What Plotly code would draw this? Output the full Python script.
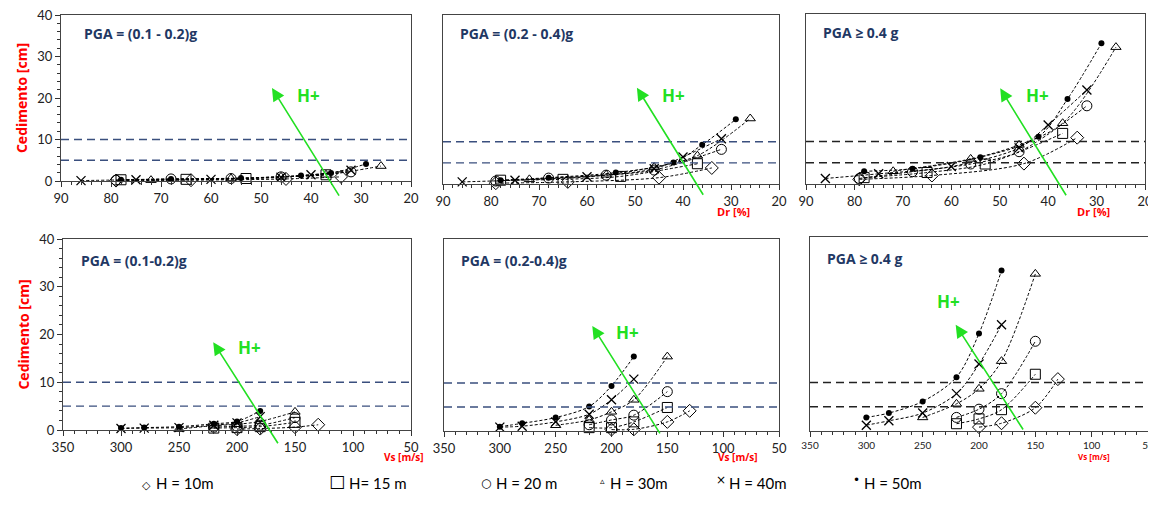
import plotly.graph_objects as go

W, H = 1156, 505
OFF = 8  # page body margin in the browser

# ---------------- data ----------------
SERIES = ["H = 10m", "H= 15 m", "H = 20 m", "H = 30m", "H = 40m", "H = 50m"]

# relative density Dr [%] of the points of each series (top row)
DR_H10 = [79, 64, 45, 34]
DR_H15 = [78, 65, 53, 37]
DR_H20 = [79, 68, 56, 46, 32]
DR_H30 = [72, 56, 46, 37, 26]
DR_H40 = [86, 75, 60, 46, 40, 32]
DR_H50 = [78, 68, 54, 42, 36, 29]

# shear wave velocity Vs [m/s] of the points of each series (bottom row)
VS_H10 = [200, 180, 150, 130]
VS_H15 = [220, 200, 180, 150]
VS_H20 = [220, 200, 180, 150]
VS_H30 = [250, 220, 200, 180, 150]
VS_H40 = [300, 280, 250, 220, 200, 180]
VS_H50 = [300, 280, 250, 220, 200, 180]

# settlements [cm], series order H10, H15, H20, H30, H40, H50
CED_DR_PGA_01_02 = [[0.1, 0.2, 0.5, 1.0], [0.3, 0.4, 0.6, 1.5], [0.2, 0.5, 0.6, 1.0, 2.2],
                    [0.2, 0.6, 1.0, 1.5, 3.6], [0.1, 0.3, 0.4, 0.9, 1.5, 2.6], [0.3, 0.5, 0.7, 1.3, 1.9, 4.1]]
CED_DR_PGA_02_04 = [[0.2, 0.5, 1.5, 3.8], [0.9, 1.1, 1.8, 4.8], [0.7, 1.4, 2.1, 3.3, 8.2],
                    [1.1, 2.2, 4.0, 6.7, 15.5], [0.5, 0.9, 1.7, 3.6, 6.4, 10.7], [0.9, 1.5, 2.7, 5.1, 9.3, 15.3]]
CED_DR_PGA_04 = [[1.1, 2.0, 4.8, 10.9], [1.5, 2.7, 4.7, 11.9], [1.3, 2.9, 4.7, 7.6, 18.4],
                 [3.0, 5.9, 9.2, 14.3, 32.2], [1.3, 2.4, 4.1, 8.5, 13.9, 22.1], [3.0, 3.6, 6.3, 11.1, 20.0, 33.1]]
CED_VS_PGA_01_02 = [[0.2, 0.3, 0.6, 1.1], [0.4, 0.5, 0.7, 1.6], [0.6, 0.8, 1.0, 2.6],
                    [0.2, 0.9, 1.2, 1.8, 3.8], [0.3, 0.4, 0.5, 1.0, 1.5, 2.8], [0.4, 0.5, 0.7, 1.3, 1.8, 4.0]]
CED_VS_PGA_02_04 = [[0.3, 0.35, 1.9, 4.2], [0.7, 0.7, 1.9, 4.9], [1.3, 2.3, 3.3, 8.2],
                    [1.2, 2.3, 4.0, 6.5, 15.5], [0.8, 1.0, 1.9, 3.5, 6.5, 10.8], [0.9, 1.6, 2.8, 5.1, 9.4, 15.5]]
CED_VS_PGA_04 = [[0.8, 1.6, 4.8, 10.7], [1.5, 2.5, 4.4, 11.7], [2.8, 4.5, 7.7, 18.5],
                 [2.8, 5.6, 8.7, 14.4, 32.4], [1.2, 2.1, 3.7, 7.7, 13.8, 21.9], [2.8, 3.7, 6.1, 11.1, 20.1, 33.1]]

PANEL_TITLES = ["PGA = (0.1 - 0.2)g", "PGA = (0.2 - 0.4)g", "PGA \u2265 0.4 g",
                "PGA = (0.1-0.2)g", "PGA = (0.2-0.4)g", "PGA \u2265 0.4 g"]
LIMITS = [5, 10]
DR_TICKS = [90, 80, 70, 60, 50, 40, 30, 20]
VS_TICKS = [350, 300, 250, 200, 150, 100, 50]
Y_TICKS = [0, 10, 20, 30, 40]

DR_X = [DR_H10, DR_H15, DR_H20, DR_H30, DR_H40, DR_H50]
VS_X = [VS_H10, VS_H15, VS_H20, VS_H30, VS_H40, VS_H50]

# ---------------- styling ----------------
FONT = "Lato"
BOLD_FONT = "Open Sans"
NAVY = "#1f3864"
RED = "#ff0000"
GREEN = "#22e022"


def px(x):
    return (x - OFF) / W


def py(y):
    return 1 - (y - OFF) / H


MARKERS = [
    dict(symbol="diamond-open", size=10, line=dict(width=1, color="black")),
    dict(symbol="square-open", size=10, line=dict(width=1, color="black")),
    dict(symbol="circle-open", size=10, line=dict(width=1, color="black")),
    dict(symbol="triangle-up-open", size=9, line=dict(width=1, color="black")),
    dict(symbol="x-thin-open", size=9, line=dict(width=1.3, color="black")),
    dict(symbol="circle", size=6, color="black", line=dict(width=0)),
]

# panel boxes in page pixels: (left, right, top, bottom)
BOXES = [(61, 411, 15, 181), (443, 779, 15, 184), (806, 1145, 14, 184),
         (63, 411, 239, 430), (444, 779, 239, 431), (810, 1148, 237, 431)]

panels = [
    (DR_X, CED_DR_PGA_01_02), (DR_X, CED_DR_PGA_02_04), (DR_X, CED_DR_PGA_04),
    (VS_X, CED_VS_PGA_01_02), (VS_X, CED_VS_PGA_02_04), (VS_X, CED_VS_PGA_04),
]

# arrow head / tail and H+ label positions in data units of each panel
ARROWS = [
    ((47.8, 22.4), (34.2, -3.9), (40.6, 20.7)),
    ((49.6, 22.8), (35.6, -2.9), (41.9, 21.0)),
    ((49.9, 22.5), (36.1, -3.0), (42.3, 20.9)),
    ((220.5, 18.4), (163.9, -3.1), (189.5, 17.2)),
    ((217.2, 21.9), (155.8, -0.8), (185.3, 20.6)),
    ((220.7, 21.9), (160.0, 0.0), (227.3, 26.6)),
]

fig = go.Figure()
layout = dict(
    width=W, height=H, margin=dict(l=0, r=0, t=0, b=0, autoexpand=False),
    paper_bgcolor="white", plot_bgcolor="white", showlegend=False,
    font=dict(family=FONT, size=13, color="#222"),
)
shapes, annotations = [], []

for i, ((xs_list, ys_list), box) in enumerate(zip(panels, BOXES)):
    n = i + 1
    xid = "x" if n == 1 else f"x{n}"
    yid = "y" if n == 1 else f"y{n}"
    xkey = "xaxis" if n == 1 else f"xaxis{n}"
    ykey = "yaxis" if n == 1 else f"yaxis{n}"
    top_row = i < 3
    left_col = i % 3 == 0
    l, r, t, b = box

    for k in range(6):
        fig.add_trace(go.Scatter(
            x=xs_list[k], y=ys_list[k], mode="lines+markers",
            line=dict(color="black", width=1, dash="3px,2px", shape="spline", smoothing=0.9),
            marker=MARKERS[k], xaxis=xid, yaxis=yid, name=SERIES[k],
            cliponaxis=False,
        ))

    tick_size = 13 if i != 5 else 10
    layout[xkey] = dict(
        domain=[px(l), px(r)], anchor=yid, automargin=False, ticklabeloverflow="allow",
        range=[90, 20] if top_row else [350, 50],
        tickvals=DR_TICKS if top_row else VS_TICKS,
        ticks="outside", ticklen=5, tickcolor="#333",
        minor=dict(dtick=2 if top_row else 10, ticks="outside", ticklen=3, tickcolor="#333"),
        showline=True, linecolor="#444", linewidth=1, mirror=True,
        showgrid=False, zeroline=False,
        tickfont=dict(size=tick_size, color="#222"),
    )
    layout[ykey] = dict(
        domain=[py(b), py(t)], anchor=xid, automargin=False, ticklabeloverflow="allow",
        range=[0, 40], tickvals=Y_TICKS,
        showticklabels=left_col,
        ticks="outside" if left_col else "", ticklen=5, tickcolor="#333",
        minor=dict(dtick=2, ticks="outside", ticklen=3, tickcolor="#333") if left_col else dict(ticks=""),
        showline=True, linecolor="#444", linewidth=1, mirror=True,
        showgrid=False, zeroline=False,
        tickfont=dict(size=13, color="#222"),
    )
    if left_col:
        layout[ykey]["title"] = dict(
            text="<b>Cedimento [cm]</b>", font=dict(size=14, color=RED, family=BOLD_FONT), standoff=6)

    # limit lines
    lc = "#3a4f7e" if i % 3 != 2 else "#222222"
    for v in LIMITS:
        shapes.append(dict(type="line", xref=f"{xid} domain", yref=yid, x0=0, x1=1, y0=v, y1=v,
                           line=dict(color=lc, width=1.4, dash="8px,5px")))

    # panel title
    annotations.append(dict(
        text=f"<b>{PANEL_TITLES[i]}</b>", xref=f"{xid} domain", yref=f"{yid} domain",
        x=0.045 if i not in (0,) else 0.06, y=0.89, xanchor="left", yanchor="middle",
        showarrow=False, font=dict(size=14, color=NAVY, family=BOLD_FONT)))

    # green arrow
    head, tail, lab = ARROWS[i]
    annotations.append(dict(
        x=head[0], y=head[1], ax=tail[0], ay=tail[1], xref=xid, yref=yid,
        axref=xid, ayref=yid, text="", showarrow=True, arrowhead=2, arrowsize=1.6,
        arrowwidth=1.6, arrowcolor=GREEN))
    annotations.append(dict(
        x=lab[0], y=lab[1], xref=xid, yref=yid, text="<b>H+</b>", showarrow=False,
        font=dict(size=17, color=GREEN, family=BOLD_FONT)))

# axis name labels (placed just under the tick-label row)
for (x, y, txt, sz) in [(733, 211, "Dr [%]", 11), (1112, 211, "Dr [%]", 11),
                        (382, 466, "Vs [m/s]", 10), (738, 466, "Vs [m/s]", 10),
                        (1112, 464, "Vs [m/s]", 8)]:
    annotations.append(dict(x=px(x), y=py(y), xref="paper", yref="paper",
                            text=f"<b>{txt}</b>", showarrow=False,
                            font=dict(size=sz, color=RED, family=BOLD_FONT)))

# legend row
LEG_SYM = ["\u25c7", "\u25a1", "\u25cb", "\u25b5", "\u00d7", "\u2022"]
LEG_SYM_SIZE = [11, 17, 12, 9, 12, 12]
LEG_SYM_X = [146, 337, 486, 602, 721, 856]
LEG_SYM_Y = [494, 493, 492, 488, 489, 489]
LEG_TXT_X = [154, 347, 494, 608, 727, 862]
for k in range(6):
    annotations.append(dict(x=px(LEG_SYM_X[k]), y=py(LEG_SYM_Y[k]), xref="paper", yref="paper",
                            text=LEG_SYM[k], showarrow=False, xanchor="center",
                            font=dict(size=LEG_SYM_SIZE[k], color="black", family="DejaVu Sans")))
    annotations.append(dict(x=px(LEG_TXT_X[k]), y=py(494), xref="paper", yref="paper",
                            text=SERIES[k], showarrow=False, xanchor="left",
                            font=dict(size=15, color="black", family=FONT)))

layout["shapes"] = shapes
layout["annotations"] = annotations
fig.update_layout(**layout)
fig.write_html("out.html")
